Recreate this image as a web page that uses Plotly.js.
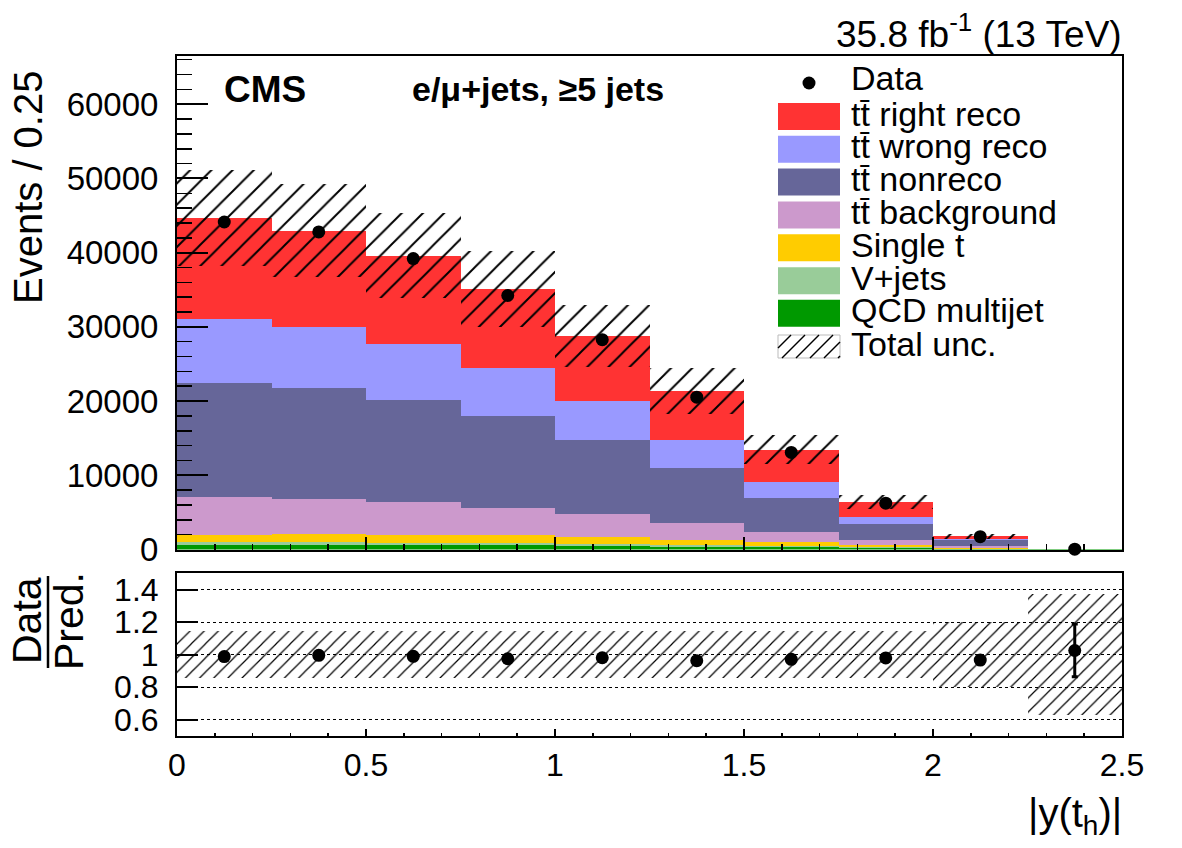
<!DOCTYPE html>
<html>
<head>
<meta charset="utf-8">
<script src="https://cdn.plot.ly/plotly-3.0.1.min.js"></script>
<style>
html, body { margin: 0; padding: 0; background: #fff; }
#chart { width: 1182px; height: 848px; }
</style>
</head>
<body>
<div id="chart"></div>
<script>
// |y(t_h)| binning
const binLow = [0, 0.25, 0.5, 0.75, 1.0, 1.25, 1.5, 1.75, 2.0, 2.25];
const binWidth = 0.25;

// Expected events per bin, one array per process (stacked bottom to top)
const qcdMultijet  = [600, 600, 580, 560, 500, 400, 300, 200, 60, 2];
const vJets        = [360, 370, 360, 340, 300, 250, 180, 130, 40, 2];
const singleTop    = [1060, 1180, 1080, 990, 860, 600, 500, 340, 90, 3];
const ttBackground = [5025, 4720, 4350, 3770, 3100, 2340, 1400, 580, 230, 6];
const ttNonreco    = [15405, 14860, 13830, 12290, 10010, 7410, 4530, 2160, 830, 17];
const ttWrongReco  = [8620, 8210, 7500, 6560, 5300, 3750, 2210, 940, 230, 4];
const ttRightReco  = [13600, 13020, 11900, 10600, 8750, 6570, 4350, 2020, 310, 5];

// Observed events per bin
const dataCounts = [44130, 42790, 39200, 34230, 28270, 20530, 13080, 6240, 1730, 40];

// Relative total uncertainty of the prediction per bin
const totalUncRel = [0.145, 0.145, 0.145, 0.145, 0.145, 0.145, 0.145, 0.145, 0.20, 0.37];

// Axis tick labels
const topYTicks = [0, 10000, 20000, 30000, 40000, 50000, 60000];
const ratioTickVals = [0.6, 0.8, 1, 1.2, 1.4];
const ratioTickText = ['0.6', '0.8', '1', '1.2', '1.4'];

const FONT = 'Liberation Sans, Arial, Helvetica, sans-serif';

const processes = [
  { name: 'QCD multijet', values: qcdMultijet, color: '#009900' },
  { name: 'V+jets', values: vJets, color: '#99cc99' },
  { name: 'Single t', values: singleTop, color: '#ffcc00' },
  { name: 't\u0074\u0304 background', values: ttBackground, color: '#cc99cc' },
  { name: 't\u0074\u0304 nonreco', values: ttNonreco, color: '#666699' },
  { name: 't\u0074\u0304 wrong reco', values: ttWrongReco, color: '#9999ff' },
  { name: 't\u0074\u0304 right reco', values: ttRightReco, color: '#ff3333' }
];

const binCenter = binLow.map(b => b + binWidth / 2);
const widths = binLow.map(() => binWidth);

// Stack the processes by hand (bars are overlaid with explicit bases)
const traces = [];
let cumulative = binLow.map(() => 0);
processes.forEach(p => {
  traces.push({
    type: 'bar', x: binCenter, y: p.values, base: cumulative.slice(), width: widths,
    xaxis: 'x', yaxis: 'y', name: p.name, showlegend: false,
    marker: { color: p.color, line: { width: 0 } }, hoverinfo: 'skip'
  });
  cumulative = cumulative.map((c, i) => c + p.values[i]);
});
const totalPred = cumulative;

// Hatched total-uncertainty band around the prediction
traces.push({
  type: 'bar', x: binCenter,
  y: totalPred.map((t, i) => 2 * t * totalUncRel[i]),
  base: totalPred.map((t, i) => t * (1 - totalUncRel[i])),
  width: widths, xaxis: 'x', yaxis: 'y', showlegend: false, hoverinfo: 'skip',
  marker: {
    color: 'rgba(0,0,0,0)', line: { width: 0 },
    pattern: { shape: '/', fgcolor: '#000', bgcolor: 'rgba(0,0,0,0)', size: 15, solidity: 0.13 }
  }
});

// Data points
traces.push({
  type: 'scatter', mode: 'markers', x: binCenter, y: dataCounts,
  xaxis: 'x', yaxis: 'y', showlegend: false, cliponaxis: false,
  marker: { color: '#000', size: 13 },
  error_y: { type: 'data', array: dataCounts.map(Math.sqrt), color: '#000', thickness: 2, width: 0 }
});

// Ratio panel: uncertainty band and data / prediction
traces.push({
  type: 'bar', x: binCenter,
  y: totalUncRel.map(u => 2 * u),
  base: totalUncRel.map(u => 1 - u),
  width: widths, xaxis: 'x2', yaxis: 'y2', showlegend: false, hoverinfo: 'skip',
  marker: {
    color: 'rgba(0,0,0,0)', line: { width: 0 },
    pattern: { shape: '/', fgcolor: '#000', bgcolor: 'rgba(0,0,0,0)', size: 10, solidity: 0.12 }
  }
});
traces.push({
  type: 'scatter', mode: 'markers', x: binCenter,
  y: dataCounts.map((d, i) => d / totalPred[i]),
  xaxis: 'x2', yaxis: 'y2', showlegend: false, cliponaxis: false,
  marker: { color: '#000', size: 13 },
  error_y: {
    type: 'data', array: dataCounts.map((d, i) => Math.sqrt(d) / totalPred[i]),
    color: '#000', thickness: 3, width: 3
  }
});

// Pixel helpers for decorations placed in paper coordinates
const L = 177, R = 60, T = 56, B = 112, W = 1182, H = 848;
const PW = W - L - R, PH = H - T - B;
const px = x => (x - L) / PW;
const py = y => (H - B - y) / PH;

const annotations = [];
const shapes = [];
function label(text, x, y, opts) {
  annotations.push(Object.assign({
    text: text, x: px(x), y: py(y), xref: 'paper', yref: 'paper',
    showarrow: false, xanchor: 'left', yanchor: 'middle',
    font: { family: FONT, size: 34, color: '#000' }
  }, opts || {}));
}

// Header texts
label('35.8 fb<sup>-1</sup> (13 TeV)', 1124, 32, { xanchor: 'right', font: { family: FONT, size: 37, color: '#000' } });
label('<b>CMS</b>', 222, 89, { font: { family: FONT, size: 37, color: '#000' } });
label('<b>e/\u03bc+jets, \u22655 jets</b>', 410, 89, { font: { family: FONT, size: 34, color: '#000' } });

// Axis titles
label('Events / 0.25', 28, 188, { xanchor: 'center', textangle: -90, font: { family: FONT, size: 40, color: '#000' } });
label('Data', 27, 621, { xanchor: 'center', textangle: -90, font: { family: FONT, size: 41, color: '#000' } });
label('Pred.', 69, 621, { xanchor: 'center', textangle: -90, font: { family: FONT, size: 41, color: '#000' } });
shapes.push({ type: 'line', xref: 'paper', yref: 'paper', x0: px(48), x1: px(48), y0: py(576), y1: py(668), line: { color: '#000', width: 2.5 } });
label('|y(t<sub>h</sub>)|', 1124, 816, { xanchor: 'right', font: { family: FONT, size: 40, color: '#000' } });

// Legend
const boxL = 778, boxR = 840, textX = 849;
const legendRows = [
  { text: 'Data', y: 81 },
  { text: 't\u0074\u0304 right reco', y: 116.5, color: '#ff3333' },
  { text: 't\u0074\u0304 wrong reco', y: 149.3, color: '#9999ff' },
  { text: 't\u0074\u0304 nonreco', y: 182, color: '#666699' },
  { text: 't\u0074\u0304 background', y: 215, color: '#cc99cc' },
  { text: 'Single t', y: 247.7, color: '#ffcc00' },
  { text: 'V+jets', y: 280.7, color: '#99cc99' },
  { text: 'QCD multijet', y: 313.3, color: '#009900' },
  { text: 'Total unc.', y: 346.7 }
];
legendRows.forEach(r => {
  label(r.text, textX, r.y - 3);
  if (r.color) {
    shapes.push({ type: 'rect', xref: 'paper', yref: 'paper', x0: px(boxL), x1: px(boxR), y0: py(r.y + 13.5), y1: py(r.y - 13.5), fillcolor: r.color, line: { width: 0 } });
  }
});
// Data marker in the legend
shapes.push({ type: 'circle', xref: 'paper', yref: 'paper', x0: px(809 - 6.5), x1: px(809 + 6.5), y0: py(83 + 6.5), y1: py(83 - 6.5), fillcolor: '#000', line: { width: 0 } });
// Hatched legend box for the total uncertainty
const hTop = 335, hBot = 358;
shapes.push({ type: 'rect', xref: 'paper', yref: 'paper', x0: px(boxL), x1: px(boxR), y0: py(hBot), y1: py(hTop), fillcolor: 'rgba(0,0,0,0)', line: { color: '#bbbbbb', width: 1 } });
for (let s = boxL - 10; s < boxR; s += 14) {
  let x0 = s, y0 = hBot, x1 = s + (hBot - hTop), y1 = hTop;
  if (x0 < boxL) { y0 = hBot - (boxL - x0); x0 = boxL; }
  if (x1 > boxR) { y1 = hTop + (x1 - boxR); x1 = boxR; }
  if (x1 - x0 < 2) continue;
  shapes.push({ type: 'line', xref: 'paper', yref: 'paper', x0: px(x0), x1: px(x1), y0: py(y0), y1: py(y1), line: { color: '#000', width: 1.5 } });
}

const topDomainBottom = (H - B - 549.5) / PH;
const ratioDomainTop = (H - B - 573.3) / PH;

const commonAxis = {
  showline: true, linecolor: '#000', linewidth: 2, mirror: true,
  ticks: 'inside', tickcolor: '#000', tickwidth: 2,
  showgrid: false, zeroline: false,
  tickfont: { family: FONT, size: 32, color: '#000' }
};

const layout = {
  width: W, height: H,
  margin: { l: L, r: R, t: T, b: B },
  paper_bgcolor: '#fff', plot_bgcolor: '#fff',
  barmode: 'overlay', bargap: 0,
  showlegend: false,
  font: { family: FONT, color: '#000' },
  xaxis: Object.assign({}, commonAxis, {
    domain: [0, 1], anchor: 'y', range: [0, 2.5], tick0: 0, dtick: 0.5,
    ticklen: 13, showticklabels: false,
    minor: { dtick: 0.1, ticks: 'inside', ticklen: 6, tickwidth: 1.5, tickcolor: '#000' }
  }),
  yaxis: Object.assign({}, commonAxis, {
    domain: [topDomainBottom, 1], anchor: 'x', range: [0, 66500],
    tickvals: topYTicks, ticktext: topYTicks.map(String), ticklen: 31,
    ticklabelstandoff: 10,
    tickfont: { family: FONT, size: 33, color: '#000' },
    minor: { dtick: 2000, ticks: 'inside', ticklen: 15, tickwidth: 1.5, tickcolor: '#000' }
  }),
  xaxis2: Object.assign({}, commonAxis, {
    domain: [0, 1], anchor: 'y2', range: [0, 2.5], tick0: 0, dtick: 0.5,
    ticklen: 7,
    minor: { dtick: 0.1, ticks: 'inside', ticklen: 3.5, tickwidth: 1.5, tickcolor: '#000' }
  }),
  yaxis2: Object.assign({}, commonAxis, {
    domain: [0, ratioDomainTop], anchor: 'x2', range: [0.5, 1.5],
    tickvals: ratioTickVals, ticktext: ratioTickText, ticklen: 21,
    ticklabelstandoff: 10,
    showgrid: true, gridcolor: '#000', gridwidth: 1.2, griddash: 'dot'
  }),
  annotations: annotations,
  shapes: shapes
};

Plotly.newPlot('chart', traces, layout, { staticPlot: true });
</script>
</body>
</html>
